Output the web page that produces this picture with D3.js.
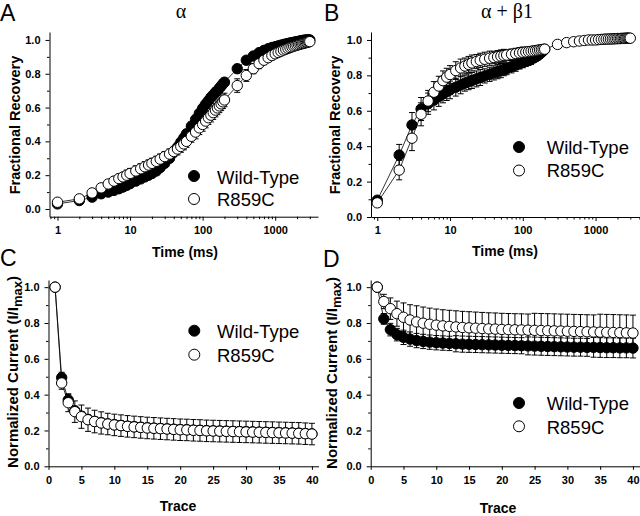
<!DOCTYPE html>
<html><head><meta charset="utf-8">
<script src="https://cdn.jsdelivr.net/npm/d3@7"></script>
<style>body{margin:0;background:#fff} svg{display:block}</style>
</head><body>
<svg id="c" width="640" height="516"></svg>
<script>
// ---------- DATA ----------
const timeA = [1,2,3,4,5,6,7,8,9,10,
 12,14,16,18,20,
 23,26,30,35,40,45,50,55,60,70,80,90,100,
 110,120,130,140,150,160,170,180,190,200,
 300,400,500,600,700,800,900,
 1000,1100,1200,1300,1400,1500,1600,1700,1800,1900,2000,2100,2200,2300,2400,2500,2600,2700,2800,2900,3000];
const wtA = [0.03,0.05,0.07,0.09,0.10,0.11,0.12,0.13,0.14,0.15,
 0.165,0.178,0.19,0.20,0.21,
 0.225,0.245,0.27,0.30,0.335,0.365,0.395,0.42,0.445,0.49,0.53,0.565,0.595,
 0.62,0.64,0.66,0.675,0.69,0.70,0.715,0.727,0.74,0.75,
 0.83,0.88,0.905,0.925,0.938,0.948,0.955,
 0.96,0.965,0.969,0.973,0.976,0.979,0.982,0.984,0.986,0.988,0.99,0.992,0.994,0.995,0.997,0.998,0.999,1.0,1.0,1.0,1.0];
const wtAerr = [0.01,0.01,0.01,0.01,0.015,0.015,0.015,0.015,0.02,0.02,
 0.02,0.02,0.02,0.02,0.02,
 0.02,0.02,0.02,0.025,0.025,0.025,0.025,0.025,0.025,0.025,0.025,0.025,0.025,
 0.025,0.025,0.025,0.025,0.025,0.025,0.025,0.025,0.025,0.025,
 0.025,0.02,0.02,0.02,0.02,0.015,0.015,
 0.015,0.015,0.015,0.015,0.015,0.015,0.015,0.01,0.01,0.01,0.01,0.01,0.01,0.01,0.01,0.01,0.01,0.01,0.01,0.01,0.01];
const mutA = [0.04,0.06,0.095,0.125,0.148,0.165,0.18,0.19,0.20,0.21,
 0.225,0.238,0.25,0.26,0.27,
 0.282,0.295,0.31,0.325,0.34,0.355,0.37,0.385,0.40,0.43,0.455,0.48,0.50,
 0.52,0.54,0.555,0.57,0.585,0.598,0.61,0.622,0.634,0.645,
 0.73,0.79,0.83,0.86,0.88,0.895,0.908,
 0.918,0.926,0.933,0.94,0.945,0.95,0.955,0.959,0.963,0.966,0.969,0.972,0.975,0.977,0.979,0.981,0.983,0.985,0.987,0.989,0.99];
const mutAerr = [0.01,0.01,0.015,0.02,0.02,0.025,0.025,0.025,0.03,0.03,
 0.03,0.03,0.03,0.03,0.03,
 0.03,0.03,0.03,0.03,0.03,0.035,0.035,0.035,0.035,0.035,0.04,0.04,0.04,
 0.04,0.04,0.04,0.04,0.04,0.04,0.04,0.04,0.04,0.04,
 0.04,0.035,0.03,0.03,0.025,0.025,0.025,
 0.02,0.02,0.02,0.02,0.02,0.02,0.02,0.02,0.02,0.02,0.015,0.015,0.015,0.015,0.015,0.015,0.015,0.015,0.015,0.015,0.015];

const timeBwt = [1,2,3,4,5,6,7,8,9,10,
 12,14,16,18,20,
 23,26,30,35,40,45,50,55,60,70,80,90,100,
 110,120,130,140,150,160,170,180,190,200];
const wtB = [0.095,0.35,0.52,0.61,0.64,0.66,0.68,0.695,0.708,0.718,
 0.733,0.746,0.756,0.764,0.771,
 0.78,0.788,0.797,0.806,0.814,0.821,0.827,0.833,0.839,0.849,0.858,0.866,0.873,
 0.88,0.886,0.892,0.898,0.905,0.912,0.92,0.929,0.938,0.947];
const wtBerr = [0.02,0.06,0.07,0.065,0.06,0.055,0.055,0.05,0.05,0.05,
 0.05,0.05,0.045,0.045,0.045,
 0.045,0.045,0.04,0.04,0.04,0.04,0.04,0.035,0.035,0.035,0.035,0.03,0.03,
 0.03,0.03,0.03,0.025,0.025,0.025,0.025,0.02,0.02,0.02];
const timeBmut = timeA;
const mutB = [0.08,0.265,0.445,0.58,0.655,0.705,0.74,0.77,0.79,0.805,
 0.827,0.842,0.853,0.862,0.87,
 0.878,0.885,0.891,0.897,0.901,0.905,0.909,0.912,0.915,0.919,0.923,0.927,0.93,
 0.932,0.934,0.936,0.938,0.94,0.942,0.944,0.945,0.947,0.948,
 0.975,0.985,0.99,0.994,0.997,1.0,1.0,
 1.0,1.002,1.003,1.004,1.005,1.005,1.006,1.006,1.007,1.007,1.008,1.008,1.008,1.009,1.009,1.009,1.01,1.01,1.01,1.01,1.01];
const mutBerr = [0.02,0.055,0.07,0.065,0.06,0.06,0.055,0.055,0.05,0.05,
 0.05,0.05,0.045,0.045,0.045,
 0.04,0.04,0.04,0.04,0.035,0.035,0.035,0.035,0.03,0.03,0.03,0.03,0.03,
 0.025,0.025,0.025,0.025,0.025,0.02,0.02,0.02,0.02,0.02,
 0.015,0.015,0.01,0.01,0.01,0.01,0.01,
 0.01,0.01,0.01,0.01,0.01,0.01,0.01,0.01,0.01,0.01,0.01,0.01,0.01,0.01,0.01,0.01,0.01,0.01,0.01,0.01,0.01];

const traces = [1,2,3,4,5,6,7,8,9,10,11,12,13,14,15,16,17,18,19,20,
 21,22,23,24,25,26,27,28,29,30,31,32,33,34,35,36,37,38,39,40];
const wtC = [1.0,0.495,0.37,0.31,0.28,0.262,0.251,0.243,0.237,0.232,0.228,0.224,0.221,0.218,0.215,0.213,0.211,0.209,0.207,0.205,
 0.204,0.202,0.201,0.199,0.198,0.197,0.196,0.195,0.194,0.193,0.192,0.191,0.19,0.189,0.188,0.187,0.186,0.185,0.183,0.181];
const wtCerr = [0,0.03,0.03,0.025,0.025,0.025,0.025,0.025,0.025,0.025,0.025,0.025,0.025,0.025,0.025,0.025,0.025,0.025,0.025,0.025,
 0.025,0.025,0.025,0.025,0.025,0.025,0.025,0.025,0.025,0.025,0.025,0.025,0.025,0.025,0.025,0.025,0.025,0.025,0.025,0.025];
const mutC = [1.0,0.465,0.355,0.305,0.277,0.26,0.25,0.242,0.236,0.231,0.227,0.223,0.22,0.217,0.214,0.212,0.21,0.208,0.206,0.204,
 0.203,0.201,0.2,0.198,0.197,0.196,0.195,0.194,0.193,0.192,0.191,0.19,0.189,0.188,0.187,0.186,0.185,0.184,0.182,0.18];
const mutCerr = [0,0.035,0.05,0.06,0.065,0.065,0.063,0.062,0.06,0.06,0.06,0.06,0.06,0.06,0.06,0.06,0.06,0.06,0.06,0.06,
 0.06,0.06,0.06,0.06,0.06,0.06,0.06,0.06,0.06,0.06,0.06,0.06,0.06,0.06,0.06,0.06,0.06,0.06,0.06,0.06];

const wtD = [1.0,0.823,0.763,0.735,0.72,0.71,0.702,0.697,0.693,0.69,0.688,0.686,0.684,0.682,0.681,0.68,0.679,0.678,0.677,0.676,
 0.675,0.674,0.673,0.672,0.671,0.67,0.669,0.668,0.667,0.666,0.665,0.665,0.664,0.664,0.663,0.662,0.662,0.661,0.661,0.66];
const wtDerr = [0,0.03,0.035,0.035,0.04,0.04,0.04,0.04,0.04,0.04,0.04,0.04,0.045,0.045,0.045,0.045,0.045,0.045,0.045,0.045,
 0.045,0.045,0.045,0.05,0.05,0.05,0.05,0.05,0.05,0.05,0.05,0.05,0.05,0.055,0.055,0.055,0.055,0.055,0.055,0.055];
const mutD = [1.0,0.92,0.88,0.852,0.832,0.817,0.806,0.799,0.793,0.788,0.784,0.781,0.778,0.775,0.773,0.771,0.769,0.767,0.766,0.764,
 0.763,0.762,0.761,0.76,0.759,0.758,0.757,0.756,0.755,0.754,0.753,0.752,0.751,0.75,0.749,0.748,0.747,0.746,0.745,0.744];
const mutDerr = [0,0.04,0.06,0.07,0.08,0.085,0.09,0.09,0.09,0.09,0.09,0.09,0.09,0.09,0.09,0.09,0.09,0.09,0.09,0.09,
 0.09,0.09,0.09,0.09,0.095,0.095,0.095,0.095,0.095,0.095,0.095,0.095,0.095,0.095,0.1,0.1,0.1,0.1,0.1,0.1];

const yTicks = [0, 0.2, 0.4, 0.6, 0.8, 1.0];
const yMinor = [0.1, 0.3, 0.5, 0.7, 0.9];
const logTicks = [1, 10, 100, 1000];
const linTicks = [0, 5, 10, 15, 20, 25, 30, 35, 40];
const legendLabels = ["Wild-Type", "R859C"];

// ---------- DRAW ----------
const svg = d3.select('#c');
const SANS = "'Liberation Sans', Arial, Helvetica, sans-serif";
const SERIF = "'Liberation Serif', 'Times New Roman', serif";

function logMinor(domain) {
  const out = [];
  for (let e = -1; e <= 4; e++) for (let m = 2; m <= 9; m++) {
    const v = m * Math.pow(10, e);
    if (v >= domain[0] && v <= domain[1]) out.push(v);
  }
  return out;
}

function panel(cfg) {
  const g = svg.append('g');
  const x = cfg.x, y = cfg.y;
  const [x0, x1] = x.range();
  const [y0, y1] = y.range();

  // axes
  const ya = d3.axisLeft(y).tickValues(yTicks).tickSize(4).tickSizeOuter(0).tickPadding(5).tickFormat(d3.format('.1f'));
  g.append('g').attr('transform', `translate(${x0},0)`).call(ya);
  const ym = g.append('g').attr('transform', `translate(${x0},0)`).call(d3.axisLeft(y).tickValues(yMinor).tickSize(2.5).tickSizeOuter(0).tickFormat(''));
  ym.select('.domain').remove();

  let xa, xm = null;
  if (cfg.log) {
    xa = d3.axisBottom(x).tickValues(logTicks).tickSize(4).tickSizeOuter(0).tickPadding(5.2).tickFormat(d3.format('d'));
    xm = d3.axisBottom(x).tickValues(logMinor(x.domain())).tickSize(2.5).tickSizeOuter(0).tickFormat('');
  } else {
    xa = d3.axisBottom(x).tickValues(linTicks).tickSize(3.5).tickSizeOuter(0).tickPadding(6.7).tickFormat(d3.format('d'));
  }
  g.append('g').attr('transform', `translate(0,${y0})`).call(xa);
  if (xm) { const mg = g.append('g').attr('transform', `translate(0,${y0})`).call(xm); mg.select('.domain').remove(); }

  g.selectAll('.domain, .tick line').attr('stroke', '#000').attr('stroke-width', 1);
  g.selectAll('.tick text').attr('font-family', SANS).attr('font-size', 11).attr('font-weight', 'bold').attr('fill', '#000');

  // data
  const line = d3.line().x(d => x(d.t)).y(d => y(d.v));
  const sets = cfg.series.map(s => s.t.map((t, i) => ({t, v: s.v[i], e: s.e[i]})));
  sets.forEach(pts => g.append('path').attr('d', line(pts)).attr('fill', 'none').attr('stroke', '#000').attr('stroke-width', 0.8));
  sets.forEach(pts => {
    const eb = g.append('g').attr('stroke', '#000').attr('stroke-width', 1);
    pts.filter(d => d.e > 0).forEach(d => {
      const cx = x(d.t), ya1 = y(d.v + d.e), yb = y(d.v - d.e);
      eb.append('line').attr('x1', cx).attr('x2', cx).attr('y1', ya1).attr('y2', yb);
      eb.append('line').attr('x1', cx - 3).attr('x2', cx + 3).attr('y1', ya1).attr('y2', ya1);
      eb.append('line').attr('x1', cx - 3).attr('x2', cx + 3).attr('y1', yb).attr('y2', yb);
    });
  });
  sets.forEach((pts, si) => {
    g.append('g').selectAll('circle').data(pts).join('circle')
      .attr('cx', d => x(d.t)).attr('cy', d => y(d.v)).attr('r', 5.2)
      .attr('fill', si === 0 ? '#000' : '#fff').attr('stroke', '#000').attr('stroke-width', 1);
  });

  // legend
  cfg.legend.forEach((L, i) => {
    g.append('circle').attr('cx', L.cx).attr('cy', L.cy).attr('r', 5.5)
      .attr('fill', i === 0 ? '#000' : '#fff').attr('stroke', '#000').attr('stroke-width', 1);
    g.append('text').attr('x', L.tx).attr('y', L.ty).text(legendLabels[i])
      .attr('font-family', SANS).attr('font-size', 18.5).attr('fill', '#000');
  });

  // axis titles
  g.append('text').attr('x', cfg.xt[0]).attr('y', cfg.xt[1]).attr('text-anchor', 'middle')
    .attr('font-family', SANS).attr('font-size', 14).attr('font-weight', 'bold').text(cfg.xTitle);
  const yt = g.append('text').attr('transform', `translate(${cfg.yt[0]},${cfg.yt[1]}) rotate(-90)`)
    .attr('text-anchor', 'middle').attr('font-family', SANS).attr('font-size', cfg.ytSize).attr('font-weight', 'bold');
  if (cfg.yTitleSub) {
    yt.append('tspan').text(cfg.yTitle);
    yt.append('tspan').text(cfg.yTitleSub).attr('font-size', 13).attr('dy', 4);
    yt.append('tspan').text(')').attr('dy', -4);
  } else yt.text(cfg.yTitle);

  // letter and title
  g.append('text').attr('x', cfg.letter[1]).attr('y', cfg.letter[2]).text(cfg.letter[0])
    .attr('font-family', SANS).attr('font-size', 23).attr('fill', '#000');
  if (cfg.title) g.append('text').attr('x', cfg.title[1]).attr('y', cfg.title[2]).attr('text-anchor', 'middle')
    .attr('font-family', SERIF).attr('font-size', 20).text(cfg.title[0]);
}

panel({
  x: d3.scaleLog().domain([0.776, 3890]).range([49.5, 318]),
  y: d3.scaleLinear().domain([-0.0456, 1.047]).range([216.7, 32]),
  log: true,
  series: [{t: timeA, v: wtA, e: wtAerr}, {t: timeA, v: mutA, e: mutAerr}],
  legend: [{cx: 194, cy: 176, tx: 217, ty: 183.5}, {cx: 194, cy: 199, tx: 217, ty: 205.5}],
  xTitle: 'Time (ms)', xt: [185, 257], yTitle: 'Fractional Recovery', ytSize: 14.5, yt: [19.5, 125],
  letter: ['A', 0, 21], title: ['α', 181, 18]
});
panel({
  x: d3.scaleLog().domain([0.82, 4017]).range([371, 639.5]),
  y: d3.scaleLinear().domain([0, 1.045]).range([217, 32]),
  log: true,
  series: [{t: timeBwt, v: wtB, e: wtBerr}, {t: timeBmut, v: mutB, e: mutBerr}],
  legend: [{cx: 519, cy: 147, tx: 546.7, ty: 154}, {cx: 519, cy: 170.5, tx: 546.7, ty: 177}],
  xTitle: 'Time (ms)', xt: [505, 256], yTitle: 'Fractional Recovery', ytSize: 14.5, yt: [339.5, 125],
  letter: ['B', 324, 21], title: ['α + β1', 507, 18]
});
panel({
  x: d3.scaleLinear().domain([0, 41]).range([48.5, 318.5]),
  y: d3.scaleLinear().domain([0, 1.04]).range([466.3, 280]),
  log: false,
  series: [{t: traces, v: wtC, e: wtCerr}, {t: traces, v: mutC, e: mutCerr}],
  legend: [{cx: 194.3, cy: 330.7, tx: 217, ty: 338}, {cx: 194.3, cy: 354.7, tx: 217, ty: 361.5}],
  xTitle: 'Trace', xt: [178, 511], yTitle: 'Normalized Current (I/I', yTitleSub: 'max', ytSize: 15, yt: [18, 372],
  letter: ['C', 0, 266], title: null
});
panel({
  x: d3.scaleLinear().domain([0, 41]).range([370.7, 639.5]),
  y: d3.scaleLinear().domain([0, 1.04]).range([466.3, 280]),
  log: false,
  series: [{t: traces, v: wtD, e: wtDerr}, {t: traces, v: mutD, e: mutDerr}],
  legend: [{cx: 519, cy: 403, tx: 546.7, ty: 410}, {cx: 519, cy: 426.3, tx: 546.7, ty: 433.5}],
  xTitle: 'Trace', xt: [498, 513], yTitle: 'Normalized Current (I/I', yTitleSub: 'max', ytSize: 15, yt: [337, 373],
  letter: ['D', 323, 267], title: null
});
</script>
</body></html>
